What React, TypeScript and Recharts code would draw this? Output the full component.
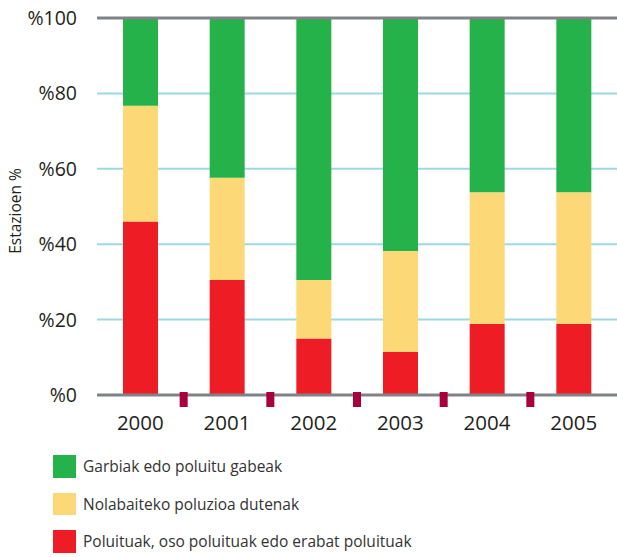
import { BarChart, Bar, XAxis, YAxis, CartesianGrid, ReferenceLine } from "recharts";

const years = ["2000", "2001", "2002", "2003", "2004", "2005"];
const polluted = [46, 30.5, 15, 11.4, 18.8, 18.8];
const moderate = [30.7, 27.1, 15.5, 26.8, 35, 35];
const clean = [23.3, 42.4, 69.5, 61.8, 46.2, 46.2];
const yTicks = [0, 20, 40, 60, 80, 100];

const series = [
  { key: "clean", name: "Garbiak edo poluitu gabeak", color: "#25B24B" },
  { key: "moderate", name: "Nolabaiteko poluzioa dutenak", color: "#FDD877" },
  { key: "polluted", name: "Poluituak, oso poluituak edo erabat poluituak", color: "#EE1C25" },
];

const data = years.map((year, i) => ({
  year,
  polluted: polluted[i],
  moderate: moderate[i],
  clean: clean[i],
}));

const W = 617;
const H = 440;
const TOP = 18;
const LEFT = 97;
const BOTTOM_SPACE = 45;
const plotW = W - LEFT;
const plotBottom = H - BOTTOM_SPACE;
const band = plotW / years.length;
const font = "'Open Sans', sans-serif";
const textColor = "#231F20";
const gray = "#808285";

const YearTick = (props: any) => {
  const { x, payload, index } = props;
  return (
    <g>
      {index < years.length - 1 && (
        <rect x={x + band / 2 - 4} y={plotBottom - 3} width={8} height={15} fill="#A8003A" />
      )}
      <text x={x} y={430} textAnchor="middle" fontSize={20.5} fill={textColor} fontFamily={font}>
        {payload.value}
      </text>
    </g>
  );
};

const YLabel = () => (
  <text
    x={15}
    y={211}
    transform="rotate(-90 15 211)"
    textAnchor="middle"
    dominantBaseline="central"
    fontSize={15.5}
    fill={textColor}
    fontFamily={font}
  >
    Estazioen %
  </text>
);

export default function App() {
  return (
    <div style={{ position: "absolute", left: 0, top: 0, width: W, height: 557, background: "#fff" }}>
      <BarChart
        width={W}
        height={H}
        data={data}
        margin={{ top: TOP, right: 0, left: 0, bottom: 0 }}
        barSize={35}
      >
        <CartesianGrid vertical={false} stroke="#9ED8E2" strokeWidth={2} />
        <XAxis
          dataKey="year"
          height={BOTTOM_SPACE}
          axisLine={false}
          tickLine={false}
          tick={<YearTick />}
          interval={0}
        />
        <YAxis
          width={LEFT}
          domain={[0, 100]}
          ticks={yTicks}
          axisLine={false}
          tickLine={false}
          tickSize={0}
          tickMargin={20}
          tickFormatter={(v) => `%${v}`}
          tick={{ fontSize: 19.5, fill: textColor, fontFamily: font }}
          label={<YLabel />}
        />
        <Bar dataKey="polluted" stackId="a" fill="#EE1C25" isAnimationActive={false} />
        <Bar dataKey="moderate" stackId="a" fill="#FDD877" isAnimationActive={false} />
        <Bar dataKey="clean" stackId="a" fill="#25B24B" isAnimationActive={false} />
        <ReferenceLine y={100} stroke={gray} strokeWidth={3} />
        <ReferenceLine y={0} stroke={gray} strokeWidth={3} />
      </BarChart>
      <div style={{ position: "absolute", left: 53, top: 455, fontFamily: font }}>
        {series.map((s) => (
          <div key={s.key} style={{ display: "flex", alignItems: "center", height: 22.5, marginBottom: 15 }}>
            <div style={{ width: 23, height: 22.5, background: s.color }} />
            <span style={{ marginLeft: 7, fontSize: 15.5, color: "#333" }}>{s.name}</span>
          </div>
        ))}
      </div>
    </div>
  );
}
